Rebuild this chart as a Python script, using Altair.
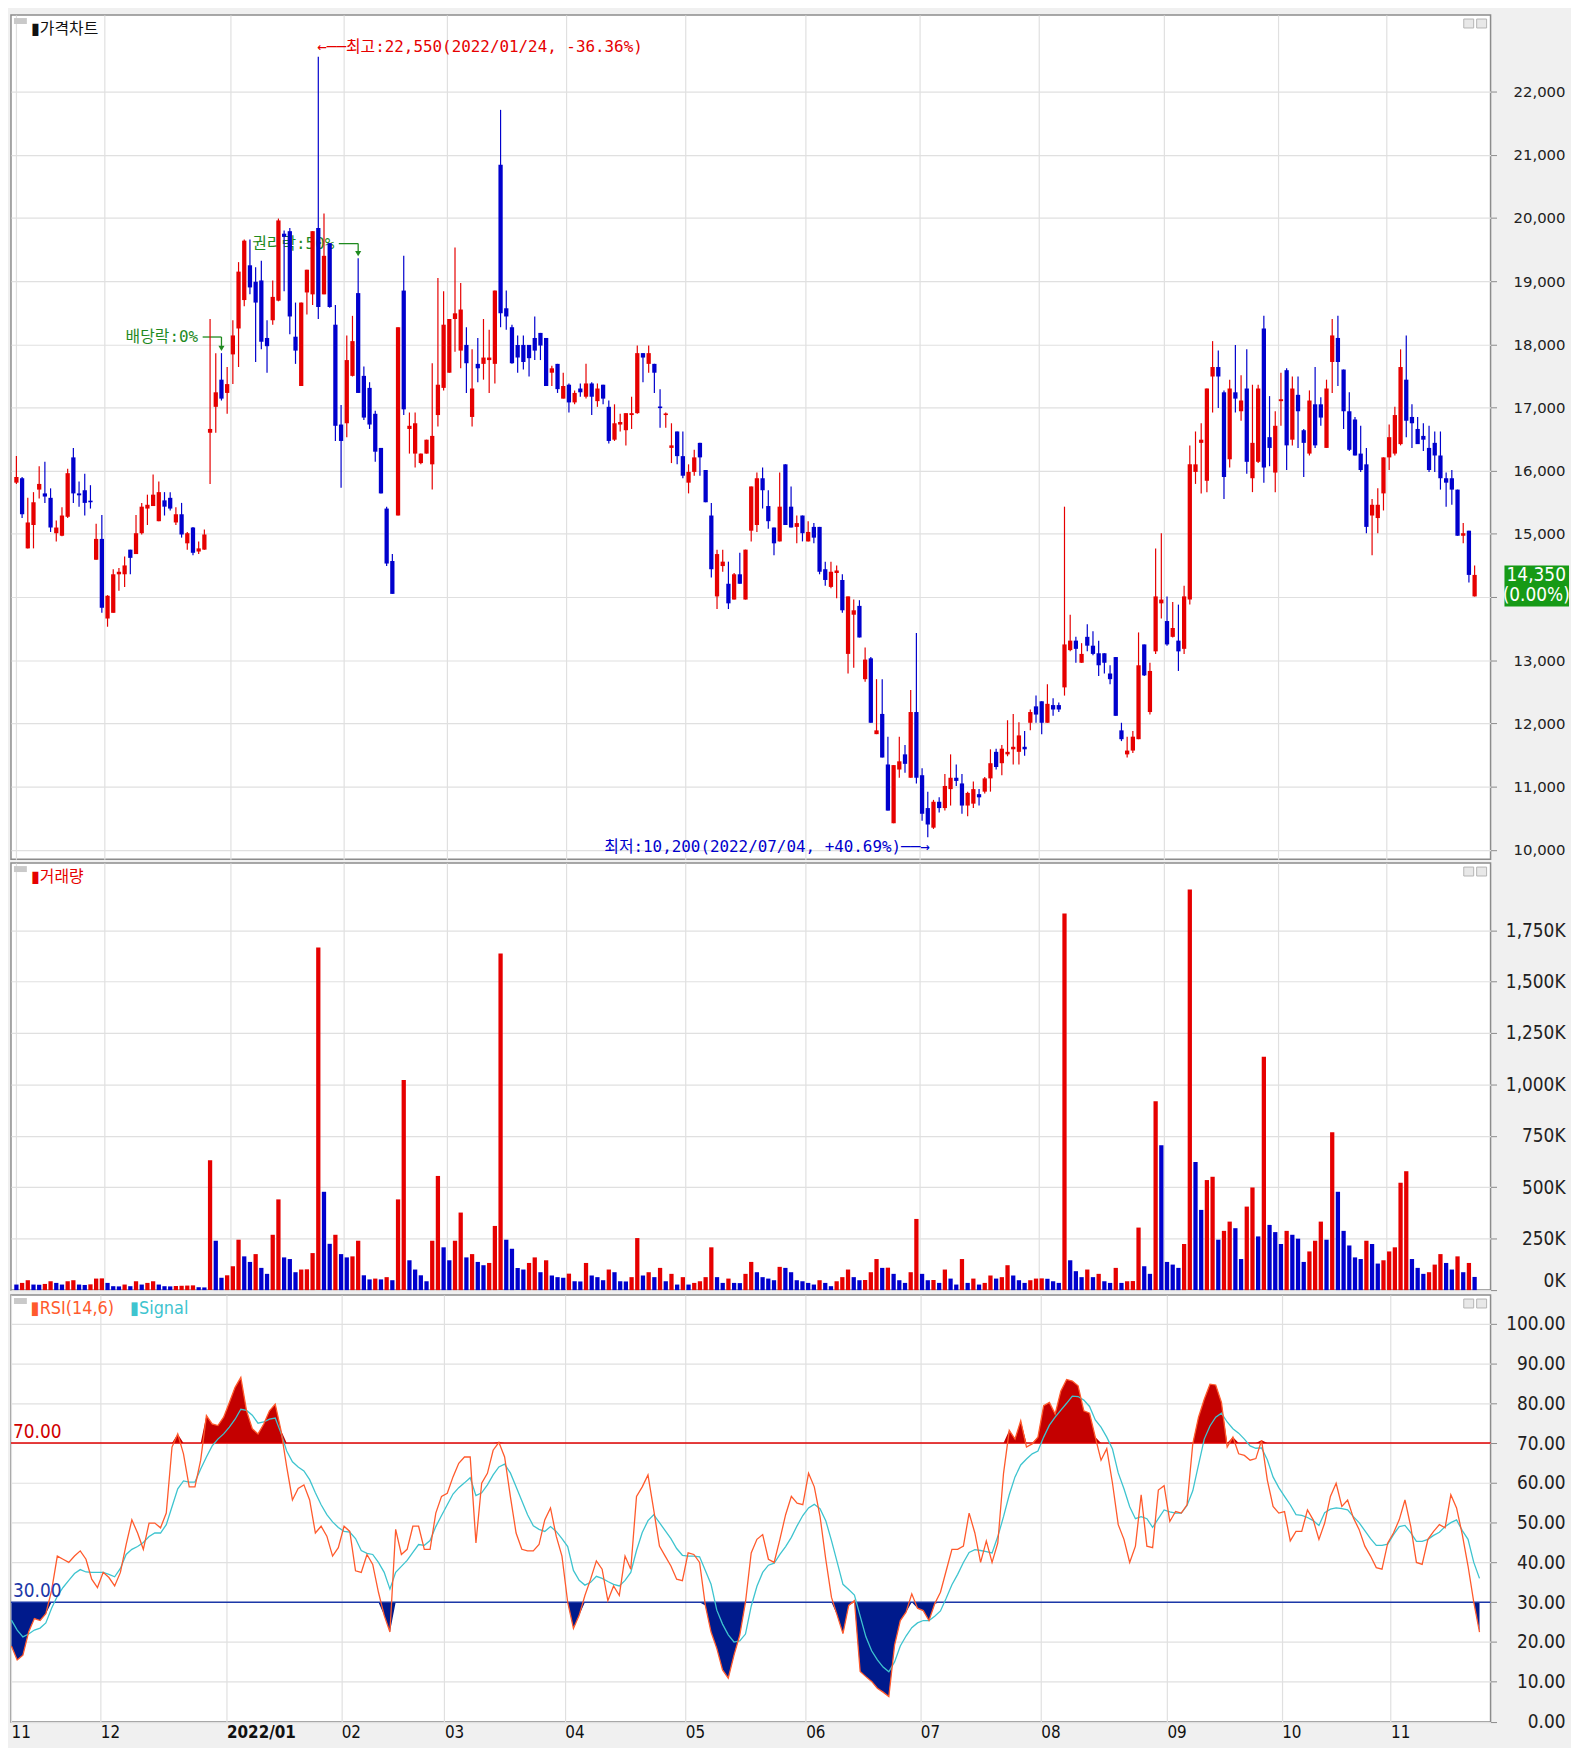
import altair as alt
import pandas as pd
import numpy as np

# ---------------- data ----------------
MONTH_START = [0, 16, 38, 58, 76, 97, 118, 139, 159, 180, 202, 222, 241]
MONTH_LABEL = ["11", "12", "2022/01", "02", "03", "04", "05", "06", "07", "08", "09", "10", "11"]

OPEN = [15810,15880,14770,15140,15700,15640,15570,15010,14970,15270,
 16210,15640,15690,15520,14590,14920,13660,13750,14360,14360,
 14750,14680,15010,15400,15440,15200,15530,15570,15180,15310,
 14850,15100,14720,14750,16600,17010,17440,17230,17840,18250,
 18700,19250,18990,19010,18100,18380,18690,19750,19790,18120,
 17340,18820,18790,19840,18790,19600,18310,16730,16750,17500,
 18810,17500,17310,16900,16360,15400,14570,15290,18850,16660,
 16270,16120,16270,16100,16880,17310,17550,18400,17900,17990,
 16850,17690,17690,17750,17690,20840,18570,18270,17990,17990,
 17990,18100,18180,18100,17550,17690,17140,17360,17080,17300,
 17170,17380,17100,17360,17010,16490,16730,16640,16880,16910,
 17860,17690,17690,17010,16880,16360,16620,16230,15810,15980,
 16440,16010,15290,14010,14490,14210,13960,14360,13960,15050,
 15140,15880,15440,15100,14880,16100,15430,15110,15290,14880,
 15110,15110,14440,14160,14380,14270,13100,13720,13860,12700,
 13030,11830,12150,11350,10420,11270,11510,11140,12180,11180,
 10660,10350,10760,10660,10960,11140,11050,10700,10730,10880,
 10920,11130,11550,11370,11510,11590,11550,11630,12010,12270,
 12350,12010,12290,12290,12570,13160,13310,12960,13370,13230,
 13110,13110,12790,13050,11890,11510,11570,11750,13250,12180,
 13140,13900,13620,13370,13310,13180,13960,15980,16440,15840,
 17490,17640,17240,16180,17240,16940,17300,15880,16140,18250,
 16530,15970,17100,17590,16490,17200,16640,16270,17050,17050,
 16360,17720,18100,17600,16940,16810,16270,16100,15290,15250,
 15640,16210,16270,16420,17440,16850,16660,16550,16360,16440,
 16240,15880,15880,15700,14970,15050,14010]
HIGH = [16230,15900,15570,15660,16070,16140,15720,15210,15420,16030,
 16360,15830,15950,15770,15160,15300,14030,14440,14460,14640,
 14750,15300,15490,15620,15940,15830,15660,15660,15420,15490,
 15030,15110,14880,15070,18400,17860,17860,17640,18380,19300,
 19660,19660,19220,19320,18380,19010,19990,19800,19840,18660,
 18660,19180,19790,22550,20070,19600,18620,17040,18140,18450,
 19360,17650,17400,16950,16360,15430,14680,18270,19400,16920,
 16920,16270,16490,17700,19050,18840,18400,19530,18970,18270,
 17920,18100,18400,18230,18850,21710,18850,18310,18140,18140,
 17990,18440,18180,18100,17660,17690,17550,17380,17270,17380,
 17690,17400,17380,17360,17110,17050,16900,16910,17170,17980,
 17860,17980,17690,17290,16920,16750,16620,16620,16100,16330,
 16440,16010,15490,14750,14750,14560,14380,14700,14750,15750,
 15970,16050,15690,15100,15970,16100,15750,15290,15290,15200,
 15170,15110,14560,14560,14500,14360,14010,13960,13950,13200,
 13050,12700,12700,11790,11340,11790,11660,12530,13430,11290,
 10920,10790,10830,11200,11510,11350,11200,10920,11080,10960,
 11150,11590,11600,11660,12050,12150,12020,11880,12220,12440,
 12350,12620,12400,12330,15430,13720,13370,13270,13570,13460,
 13310,13110,12920,13050,12010,11790,11880,13440,13250,12960,
 14770,15010,14010,13920,13880,14180,16400,16620,16750,17300,
 18050,17900,17270,17440,17990,17510,17920,17360,17360,18450,
 17180,16940,17550,17620,17490,17490,16660,17270,17640,17160,
 17440,18400,18450,17600,17240,16850,16710,16360,15550,15720,
 16210,16730,17010,17920,18140,17050,16850,16750,16710,16620,
 16620,15970,16010,15700,15170,15050,14500]
LOW = [15790,15250,14770,14770,15560,15490,15030,14880,14960,15250,
 15490,15430,15290,15400,14590,13750,13530,13750,14100,14160,
 14360,14680,14990,15140,15440,15200,15290,15370,15140,14940,
 14750,14660,14680,14750,15790,16600,17110,16900,17370,17640,
 18600,18790,17720,17920,17550,18310,18680,18840,18160,17690,
 17340,18470,18620,18400,18790,18580,16470,15730,16530,17490,
 17230,16800,16660,16140,15640,14490,14050,15290,16880,16270,
 16050,16100,16270,15700,16700,17270,17550,17880,17620,17230,
 16700,17400,17440,17230,17380,18270,18230,17690,17550,17600,
 17490,17750,17750,17340,17340,17230,17140,16920,17050,17170,
 17140,16880,17010,17050,16430,16470,16620,16400,16660,16900,
 17400,17550,17230,16680,16680,16120,16100,15880,15640,15920,
 15920,15500,14310,13810,14400,13810,13960,14210,13960,14880,
 15030,15400,15080,14660,14880,15140,15100,14850,14880,14880,
 14850,14360,14180,14140,13980,13750,12790,12880,13360,12660,
 12010,11830,11460,10620,10420,11140,11220,11140,11050,10460,
 10200,10330,10590,10620,10700,11010,10570,10530,10660,10700,
 10890,10920,11270,11180,11480,11350,11350,11490,11890,12010,
 11830,12010,12120,12180,12440,13140,12960,12960,13140,13080,
 12750,12790,12620,12120,11720,11460,11530,11750,12750,12140,
 13100,13660,13230,13360,12830,13100,13880,15790,15640,15660,
 16920,16990,15550,16050,16920,16790,15950,15660,16120,15810,
 16070,15660,16710,16010,16400,16360,15900,16240,16360,16710,
 16360,17230,17340,16660,16310,16240,15980,15010,14660,15010,
 15370,16010,16240,16400,16530,16360,16420,16310,15980,15980,
 15700,15430,15460,14970,14850,14230,14010]
CLOSE = [15900,15310,15180,15500,15790,15590,15100,15100,15290,15960,
 15640,15610,15490,15500,14920,13830,14020,14360,14400,14500,
 14620,15010,15430,15460,15620,15660,15430,15400,15310,14990,
 15010,14700,14770,14990,16660,17240,17140,17370,18140,19150,
 19640,18900,18660,18040,17970,18750,19960,19700,18440,17900,
 18660,19180,19790,18590,19400,18590,16710,16470,17750,18050,
 17230,16840,16730,16300,15640,14530,14050,18270,16970,16710,
 16750,16270,16490,16550,17360,18310,18400,18490,18550,17700,
 17300,17620,17790,17790,18850,18490,18440,17700,17790,17720,
 17780,17900,17980,17340,17620,17290,17340,17080,17230,17240,
 17380,17170,17300,17140,16470,16750,16770,16910,16910,17860,
 17790,17860,17550,16990,16900,16400,16230,15920,15980,16210,
 16210,15500,14440,14680,14560,13900,14360,14210,14750,15750,
 15880,15690,15200,14850,15430,15140,15100,15170,15010,15030,
 14940,14400,14270,14400,14420,13790,14010,13790,13360,13010,
 12010,11890,11460,10620,11340,11400,11360,12180,11140,10570,
 10400,10760,10660,11010,11140,11090,10700,10900,10960,10830,
 11130,11370,11310,11600,11550,11630,11810,11590,12180,12140,
 12010,12310,12220,12220,13250,13310,13180,13100,13230,13100,
 12920,12960,12700,12120,11750,11570,11790,12920,12760,12830,
 14010,13960,13250,13510,13140,14010,16100,16100,16490,17300,
 17640,17490,15900,17300,17140,17110,16140,16440,17300,16050,
 16360,16710,17130,16400,17300,16940,16440,17110,16400,16840,
 17300,18140,17720,16940,16330,16240,16010,15110,15460,15460,
 16210,16530,16880,17640,16790,16750,16420,16490,16010,16240,
 15880,15810,15700,14970,15010,14350,14350]
VOLUME_K = [27,35,48,27,26,30,43,35,27,43,
 48,27,25,28,56,57,35,19,18,27,
 19,43,27,35,43,27,19,18,20,21,
 22,23,14,13,631,240,60,72,116,245,
 164,137,175,108,79,269,441,159,151,87,
 100,101,180,1666,478,225,269,175,159,164,
 240,72,52,56,52,63,48,441,1021,145,
 100,72,43,240,555,208,145,240,377,159,
 175,137,121,132,312,1637,245,201,108,100,
 132,159,87,145,71,63,60,80,43,42,
 132,71,63,48,100,87,43,42,63,253,
 71,87,63,108,43,79,27,63,27,35,
 43,63,208,63,35,56,35,34,79,137,
 87,63,56,48,113,108,87,48,43,35,
 27,48,35,19,43,63,100,63,48,49,
 87,151,108,109,79,48,35,87,346,79,
 48,49,35,100,56,27,151,35,56,27,
 35,71,56,63,121,71,48,35,48,56,
 57,55,43,35,1831,145,92,63,100,63,
 79,43,35,108,35,43,44,304,116,79,
 918,704,137,124,108,224,1948,623,390,535,
 551,245,288,333,301,151,406,499,261,1135,
 317,282,224,288,269,250,137,188,240,333,
 245,768,478,288,217,159,151,240,224,129,
 145,188,208,522,578,151,108,79,87,124,
 175,132,100,164,87,132,64]
RSI = [19,15.5,16.7,22.5,25.9,25.4,27.1,32.9,41.6,40.8,
 40,41.6,42.9,40.8,35.8,33.7,37.5,36.2,34.1,37.5,
 44.5,50.7,47.4,43.3,49.9,49.9,48.7,52.4,69,72.3,
 67.3,59,59,65.7,76.9,74.8,74.4,76.5,80.2,84,
 86.5,78.1,73.6,72.3,74.8,78.1,79.8,73.2,64,55.7,
 58.6,59.5,55.7,47.4,49.1,46.6,41.6,43.7,49.1,47.8,
 37.9,37.5,42,39.5,32.5,26.7,22.5,48.3,42,43.3,
 49.1,49.1,43.3,43.3,52.4,56.6,57.4,61.5,64.9,66.5,
 66.5,44.9,59.9,62.4,68.2,70.2,66.5,56.6,47.4,43.3,
 42.9,42.9,44.5,50.7,53.7,46.6,41.6,30,23.4,26.7,
 31.7,35.8,40.4,38.3,30.4,34.1,31.7,41.6,38.3,56.6,
 59,62,53.2,44.1,41.6,39.1,35.8,35.4,42.4,42,
 40,29.2,22.5,18.4,13,10.9,16.7,21.7,30,42.4,
 45.8,47,40.8,40,45.8,52,56.6,54.9,54.5,62.4,
 59,51.6,40.8,31.2,26.7,22.1,29.2,30.4,12.6,11.3,
 10.1,8.4,7.4,6.3,19.2,25.4,27.5,32.1,28.5,27.9,
 25.4,29.6,32.5,37.9,43.3,43.3,44.1,52.4,47.4,40,
 45.4,40,44.9,62.4,73.2,71,75.6,69,69.8,71.5,
 79.4,80.2,77.3,83.1,86,85.6,84.4,78.1,77.5,71.5,
 65.7,68.6,59.9,49.5,45.8,40,44.1,57,44.1,43.7,
 58.2,59.3,50.3,52.8,52.4,54.5,69.8,76.5,81,84.8,
 84.6,80.2,69,71.5,67.3,66.9,65.7,66.1,70.7,60.7,
 54.1,52.4,52.8,45.4,47.8,47.8,53.2,50.7,45.8,49.9,
 56.6,59.9,54.1,55.7,51.2,48.3,44.1,41.6,38.7,38.3,
 44.9,47.4,50.7,55.7,49.1,40,39.5,45.8,47.8,49.5,
 48.7,57,53.7,47,39.1,30,22.5]
SIGNAL = [25.5,23,21.3,22,23,23.5,24.8,28.5,31.5,33.7,
 35.5,37.2,38.2,37.6,37.5,37.5,37.5,37,36.4,38.5,
 42,43.3,44,45,46.5,47.4,47.4,49.5,54,58.5,
 60.5,60.2,60.2,63.5,66.5,69.3,71,72.3,74,76,
 78.5,78.2,77,75,75.3,76,76.3,72.5,68,65.3,
 64,63,60.8,57.5,54.5,52,50.2,48.8,47.8,47.6,
 46,43,42.3,42,40,37.5,33.3,37.5,39,40.5,
 42.5,44.5,44.3,45.5,49,51.8,54.5,57.2,58.8,60,
 61.3,56.8,57.5,59.5,62,64,64.7,62.5,59,55.5,
 52,49.2,48.3,47.8,49,47.8,46,44,38,35.5,
 34.3,35,36.5,36,35.2,34.5,34.1,35.5,37.5,43,
 47.5,50.5,52,50,48,46,43.5,41.8,41.6,41.6,
 41.4,38,34.5,28,24.5,21.8,20,20.3,22,29,
 34,37.5,39.3,39.8,42,44,46.3,49.2,51.8,53.7,
 54.6,53.5,50.5,45.5,40,34.5,33.2,31.8,26.5,21.3,
 17.8,15.5,13.7,12.5,15,19,21.5,23.6,24.8,25.4,
 25.4,26.5,27.8,31,34.4,37,40,42.5,43.2,43,
 42.7,42.4,46.5,51.5,57,61.5,64.5,66,67.3,68,
 71.5,74.5,76.5,78.3,80,81.8,81.7,80.8,79.2,75.8,
 74,71.5,68.5,62.5,58.5,54,51,51.5,51,48.8,
 51,53.2,52.7,52.4,52.4,54.3,58,64.5,71,74.3,
 76.5,77.5,75.3,73.6,72.5,71,69.3,68.7,68.8,65.8,
 61.5,58.8,56.6,54.5,52,51.8,51.3,50.5,49.3,52.5,
 53.4,53.7,53.5,53.2,51.5,50,48,46,44.3,44.3,
 44.6,47,49,49.3,47.5,45.3,45.3,45.8,46.8,47.6,
 49,50,50.7,48,45.8,40,36]

PRICE_TICKS = list(range(10000, 22001, 1000))
VOL_TICKS = [0, 250, 500, 750, 1000, 1250, 1500, 1750]
RSI_TICKS = list(range(0, 101, 10))
EXDIV_IDX = 36      # 배당락
RIGHTS_IDX = 60     # 권리락
HI_TEXT = "←──최고:22,550(2022/01/24, -36.36%)"
LO_TEXT = "최저:10,200(2022/07/04, +40.69%)──→"

# ---------------- styling ----------------
RED = "#e60000"; BLUE = "#0000cd"; GRID = "#e0e0e0"
RSI_C = "#ff5a2c"; SIG_C = "#3ec4cf"; FILL_R = "#c40000"; FILL_B = "#001a8c"
GREEN = "#1f8a1f"
NARROW = "Liberation Sans Narrow, DejaVu Sans Condensed, sans-serif"
KFONT = "Noto Sans CJK KR"
MONO = "DejaVu Sans Mono, Noto Sans CJK KR"
W, PH, VH, RH = 1490, 850, 430, 430
X0 = -0.08
X1 = X0 + W / 5.775

df = pd.DataFrame(dict(i=np.arange(len(CLOSE)), o=OPEN, h=HIGH, l=LOW, c=CLOSE,
                       v=VOLUME_K, rsi=RSI, sig=SIGNAL))
df["col"] = np.where(df.c >= df.o, RED, BLUE)
lo = np.minimum(df.o, df.c); hi = np.maximum(df.o, df.c)
df["b1"] = lo
df["b2"] = np.maximum(hi, lo + 25)
df["vcol"] = np.where(df.v > df.v.shift(1).fillna(1e9), RED, BLUE)
df["ob"] = np.maximum(df.rsi, 70)
df["os"] = np.minimum(df.rsi, 30)
df["l70"] = 70
df["l30"] = 30

xs = alt.Scale(domain=[X0, X1], nice=False, zero=False)
GV = [X0] + [s - 0.5 for s in MONTH_START[1:]]
ax_plain = alt.Axis(values=GV, grid=True, gridColor=GRID, gridWidth=1.2, labels=False,
                    ticks=False, domain=False)
lab_expr = " : ".join(f"datum.value == {v} ? '{t}'" for v, t in zip(GV, MONTH_LABEL)) + " : ''"
ax_bottom = alt.Axis(values=GV, grid=True, gridColor=GRID, gridWidth=1.2, ticks=False,
                     domain=False, labelExpr=lab_expr, labelAlign="left", labelBaseline="top",
                     labelPadding=3, labelFont=NARROW, labelFontSize=17, labelColor="#111",
                     labelFlush=False, labelOverlap=False, labelBound=False,
                     labelFontWeight={"condition": {"test": f"datum.value == {GV[2]}", "value": "bold"},
                                      "value": "normal"})


def yaxis(values, **kw):
    base = dict(orient="right", values=values, grid=True, gridColor=GRID, gridWidth=1.2,
                domain=False, tickColor="#8a8a8a", tickSize=6, labelAlign="right",
                labelPadding=69, labelColor="#222")
    base.update(kw)
    return alt.Axis(**base)


ps = alt.Scale(domain=[9852, 23210], nice=False, zero=False)
vs = alt.Scale(domain=[0, 2076], nice=False, zero=False)
rs = alt.Scale(domain=[-0.12, 107.2], nice=False, zero=False)
pax = yaxis(PRICE_TICKS, labelExpr="datum.value == 14000 ? '' : format(datum.value, ',')",
            labelFont="DejaVu Sans", labelFontSize=15, labelFlush=False)
vax = yaxis(VOL_TICKS, labelExpr="format(datum.value, ',') + 'K'", labelFont=NARROW,
            labelFontSize=19, labelFlush=True)
rax = yaxis(RSI_TICKS, format=".2f", labelFont=NARROW, labelFontSize=19, labelFlush=False)


def X(ax, f="i"):
    return alt.X(f"{f}:Q", scale=xs, axis=ax, title=None)


def PY(f):
    return alt.Y(f"{f}:Q", scale=ps, axis=pax, title=None)


def one(**cols):
    return alt.Chart(pd.DataFrame({k: [v] for k, v in cols.items()}))


def header_bits(text_items):
    layers = [one(a=0).mark_rect(color="#c9c9c9").encode(
        x=alt.value(3), x2=alt.value(16), y=alt.value(3), y2=alt.value(9))]
    for (t, xpos, col, font, size) in text_items:
        layers.append(one(t=t).mark_text(align="left", baseline="middle", font=font,
                                         fontSize=size, color=col).encode(
            x=alt.value(xpos), y=alt.value(14), text="t:N"))
    for x0 in (W - 27, W - 14):
        layers.append(one(a=0).mark_rect(fill="#e8e8e8", stroke="#b4b4b4", strokeWidth=1).encode(
            x=alt.value(x0), x2=alt.value(x0 + 10), y=alt.value(4), y2=alt.value(13)))
    return layers


base = alt.Chart(df)

# ---------------- price panel ----------------
wick = base.mark_rule(strokeWidth=1.2).encode(
    x=X(ax_plain), y=PY("l"), y2="h:Q", color=alt.Color("col:N", scale=None))
body = base.mark_bar(size=4.3).encode(
    x=X(ax_plain), y=PY("b1"), y2="b2:Q", color=alt.Color("col:N", scale=None))

hi_i = int(np.argmax(HIGH)); lo_i = int(np.argmin(LOW))
ann_hi = one(i=hi_i, y=HIGH[hi_i] + 150, t=HI_TEXT).mark_text(
    align="left", baseline="middle", font=MONO, fontSize=16, color=RED, dx=-1).encode(
    x=X(ax_plain), y=PY("y"), text="t:N")
ann_lo = one(i=lo_i, y=LOW[lo_i] - 150, t=LO_TEXT).mark_text(
    align="right", baseline="middle", font=MONO, fontSize=16, color=BLUE, dx=2).encode(
    x=X(ax_plain), y=PY("y"), text="t:N")


def green_flag(idx, label, above, text_gap):
    yb = HIGH[idx] + above
    txt = one(i=idx - text_gap, y=yb, t=label).mark_text(
        align="right", baseline="middle", font=MONO, fontSize=16, color=GREEN).encode(
        x=X(ax_plain), y=PY("y"), text="t:N")
    lines = alt.Chart(pd.DataFrame({"i": [idx - text_gap + 0.8, idx], "i2": [idx, idx],
                                    "y": [yb, yb], "y2": [yb, HIGH[idx] + 95]})).mark_rule(
        color=GREEN, strokeWidth=1.3).encode(x=X(ax_plain), x2="i2:Q", y=PY("y"), y2="y2:Q")
    head = one(i=idx, y=HIGH[idx] + 75).mark_point(
        shape="triangle-down", filled=True, size=38, color=GREEN, opacity=1).encode(
        x=X(ax_plain), y=PY("y"))
    return [txt, lines, head]


flags = green_flag(EXDIV_IDX, "배당락:0%", 255, 4.1) + green_flag(RIGHTS_IDX, "권리락:50%", 233, 4.2)

box = one(y1=14500, y2=13850).mark_rect(color="#169a16").encode(
    x=alt.value(W + 14), x2=alt.value(W + 79), y=PY("y1"), y2="y2:Q")
last = CLOSE[-1]
chg = (CLOSE[-1] - CLOSE[-2]) / CLOSE[-2] * 100
box_t1 = one(y=last, t=f"{last:,}").mark_text(
    font=NARROW, fontSize=19, color="white", align="center", baseline="middle").encode(
    x=alt.value(W + 46), y=PY("y"), text="t:N")
box_t2 = one(y=last, t=f"({chg:.2f}%)").mark_text(
    font=NARROW, fontSize=19, color="white", align="center", baseline="middle", dy=20).encode(
    x=alt.value(W + 46), y=PY("y"), text="t:N")

price = alt.layer(
    *flags, wick, body, ann_hi, ann_lo, box, box_t1, box_t2,
    *header_bits([("▮가격차트", 20, "#111", KFONT, 16)])
).properties(width=W, height=PH)

# ---------------- volume panel ----------------
vbar = base.mark_bar(size=4.3).encode(
    x=X(ax_plain), y=alt.Y("v:Q", scale=vs, axis=vax, title=None),
    color=alt.Color("vcol:N", scale=None))
vol = alt.layer(vbar, *header_bits([("▮거래량", 20, RED, KFONT, 16)])).properties(width=W, height=VH)

# ---------------- RSI panel ----------------


def RY(f):
    return alt.Y(f"{f}:Q", scale=rs, axis=rax, title=None)


fill_r = base.mark_area(color=FILL_R, opacity=1).encode(x=X(ax_bottom), y=RY("ob"), y2="l70:Q")
fill_b = base.mark_area(color=FILL_B, opacity=1).encode(x=X(ax_bottom), y=RY("os"), y2="l30:Q")
ref70 = one(v=70).mark_rule(color="#e00000", strokeWidth=1.6).encode(y=RY("v"))
ref30 = one(v=30).mark_rule(color="#1c38a8", strokeWidth=1.6).encode(y=RY("v"))
sig_line = base.mark_line(color=SIG_C, strokeWidth=1.3).encode(x=X(ax_bottom), y=RY("sig"))
rsi_line = base.mark_line(color=RSI_C, strokeWidth=1.3).encode(x=X(ax_bottom), y=RY("rsi"))
lab70 = one(v=70, t="70.00").mark_text(align="left", baseline="bottom", font=NARROW,
                                        fontSize=19, color="#d00000", dy=-1).encode(
    x=alt.value(2), y=RY("v"), text="t:N")
lab30 = one(v=30, t="30.00").mark_text(align="left", baseline="bottom", font=NARROW,
                                        fontSize=19, color="#1c38a8", dy=-1).encode(
    x=alt.value(2), y=RY("v"), text="t:N")

rsi = alt.layer(
    fill_r, fill_b, ref70, ref30, sig_line, rsi_line, lab70, lab30,
    *header_bits([("▮RSI(14,6)", 20, RSI_C, NARROW, 18), ("▮Signal", 120, SIG_C, NARROW, 18)])
).properties(width=W, height=RH)

chart = alt.vconcat(price, vol, rsi, spacing=2).properties(
    padding={"left": 0, "top": 0, "right": 0, "bottom": 0},
    background="#f0f0f0"
).configure_view(fill="white", stroke="#8c8c8c", strokeWidth=1.5)

chart.save("out.html", embed_options={"renderer": "svg", "actions": False})
